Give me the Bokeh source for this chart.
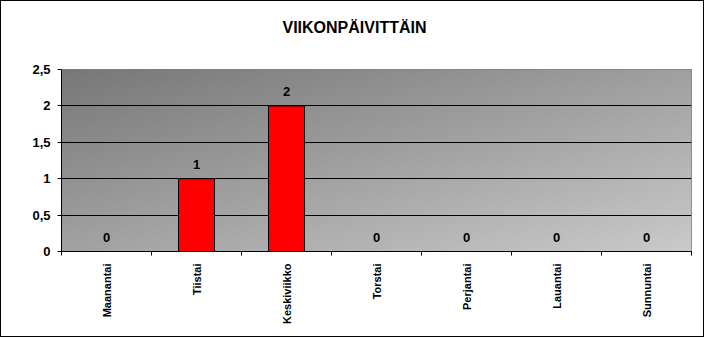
import numpy as np
from bokeh.plotting import figure
from bokeh.models import Range1d, FixedTicker, ColumnDataSource, Title
from bokeh.core.properties import value
from bokeh.embed import file_html
from bokeh.resources import INLINE

title_text = "VIIKONPÄIVITTÄIN"
days = ["Maanantai", "Tiistai", "Keskiviikko", "Torstai", "Perjantai", "Lauantai", "Sunnuntai"]
counts = [0, 1, 2, 0, 0, 0, 0]
y_ticks = [0, 0.5, 1, 1.5, 2, 2.5]
y_tick_labels = ["0", "0,5", "1", "1,5", "2", "2,5"]

n = len(days)
y_max = y_ticks[-1]
centers = [i + 0.5 for i in range(n)]

p = figure(width=704, height=337, output_backend="svg", toolbar_location=None, title=None,
           x_range=Range1d(0, n), y_range=Range1d(0, y_max),
           min_border_left=60, min_border_right=14, min_border_top=68, min_border_bottom=87,
           background_fill_color="#a0a0a0", border_fill_color="white")
p.styles = {"border": "1px solid black"}
p.outline_line_color = "#808080"
p.outline_line_width = 1

# diagonal gray gradient plot-area background
nx, ny = 300, 100
xn = np.linspace(0, 1, nx)[None, :]
yb = np.linspace(0, 1, ny)[:, None]
v = (120 + 40 * xn + 42 * (1 - yb)).astype(np.uint32)
img = (255 << 24) | (v << 16) | (v << 8) | v
bg = p.image_rgba(image=[img.astype(np.uint32)], x=0, y=0, dw=n, dh=y_max)
bg.level = "image"

src = ColumnDataSource(dict(x=centers, y=counts, lbl=[str(c) for c in counts]))
p.vbar(x="x", top="y", bottom=0, width=0.4, source=src,
       fill_color="#ff0000", line_color="black", line_width=1)
p.text(x="x", y="y", text="lbl", source=src, text_align="center", text_baseline="alphabetic",
       y_offset=-14, text_font_size=value("13px"), text_font_style="bold",
       text_font=value("Liberation Sans"), text_color="black")

# title: an empty spacer panel next to the frame, then the real title above it
p.add_layout(Title(text=" ", text_font_size="1px", standoff=31), "above")
p.add_layout(Title(text=title_text, align="left", offset=221, standoff=0,
                   text_font="Liberation Sans", text_font_size="16px",
                   text_font_style="bold", text_color="black"), "above")

# grids
p.xgrid.visible = False
p.ygrid.ticker = FixedTicker(ticks=y_ticks)
p.ygrid.grid_line_color = "black"
p.ygrid.grid_line_width = 1

# y axis
ya = p.yaxis[0]
ya.ticker = FixedTicker(ticks=y_ticks)
ya.major_label_overrides = {t: l for t, l in zip(y_ticks, y_tick_labels)}
ya.major_label_text_font = "Liberation Sans"
ya.major_label_text_font_size = "13px"
ya.major_label_text_font_style = "bold"
ya.major_label_text_color = "black"
ya.major_label_standoff = 7
ya.major_tick_out = 4
ya.major_tick_in = 0
ya.minor_tick_line_color = None
ya.axis_line_color = "black"
ya.major_tick_line_color = "black"

# x axis: labels at centres, tick marks at category boundaries
xa = p.xaxis[0]
xa.ticker = FixedTicker(ticks=centers, minor_ticks=list(range(n + 1)))
xa.major_label_overrides = {c: d for c, d in zip(centers, days)}
xa.major_label_orientation = np.pi / 2
xa.major_label_text_font = "Liberation Sans"
xa.major_label_text_font_size = "11px"
xa.major_label_text_font_style = "bold"
xa.major_label_text_color = "black"
xa.major_label_standoff = 8
xa.major_tick_line_color = None
xa.major_tick_out = 4
xa.minor_tick_out = 4
xa.minor_tick_in = 0
xa.minor_tick_line_color = "black"
xa.axis_line_color = "black"

open("out.html", "w").write(file_html(p, INLINE))
